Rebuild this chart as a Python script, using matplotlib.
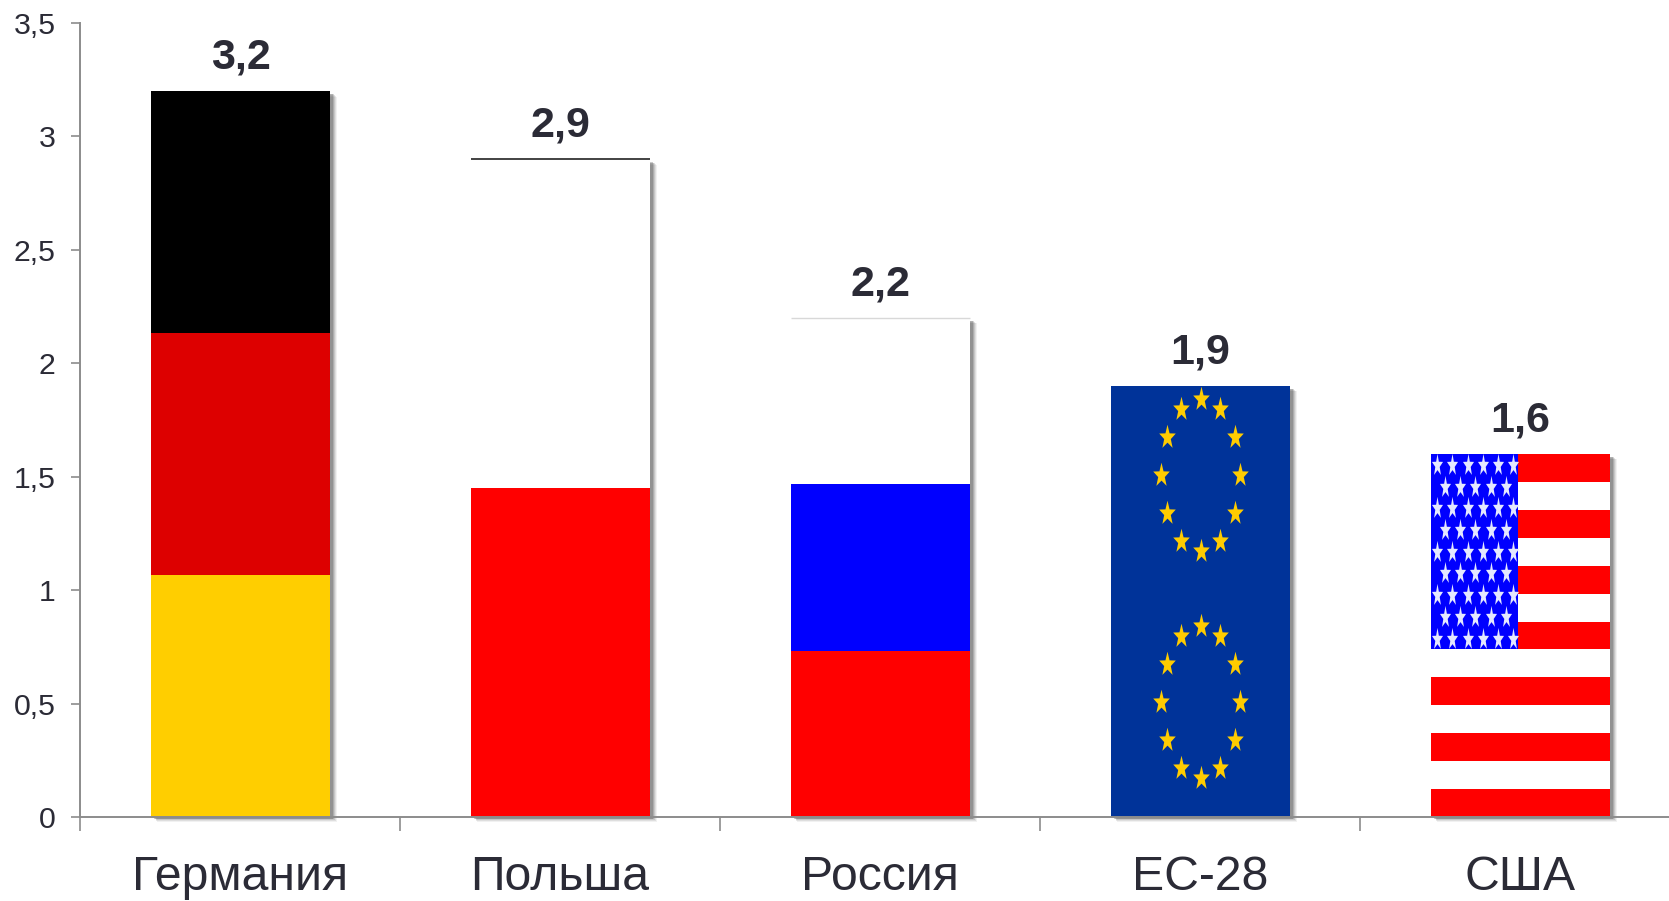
import numpy as np
import matplotlib
matplotlib.use('Agg')
import matplotlib.pyplot as plt
from matplotlib.path import Path

categories = ['Германия', 'Польша', 'Россия', 'ЕС-28', 'США']
values = [3.2, 2.9, 2.2, 1.9, 1.6]
value_labels = ['3,2', '2,9', '2,2', '1,9', '1,6']
ytick_vals = [0, 0.5, 1, 1.5, 2, 2.5, 3, 3.5]
ytick_labels = ['0', '0,5', '1', '1,5', '2', '2,5', '3', '3,5']

# flag stripes, bottom to top
germany_colors = ['#FFCE00', '#DD0000', '#000000']
poland_colors = ['#FF0000', '#FFFFFF']
russia_colors = ['#FF0000', '#0000FF', '#FFFFFF']
eu_color = '#003399'
usa_colors = ['#FF0000', '#FFFFFF'] * 6 + ['#FF0000']
canton_color = '#0000FF'
star_eu = '#FFCC00'
star_usa = '#E4E8FF'
eu_ring_centers = [0.507, 1.507]

text_color = '#2B2B36'
axis_color = '#8C8C8C'
W, H = 1669, 901
bar_w = 0.56
plt.rcParams['font.family'] = ['Liberation Sans', 'DejaVu Sans']


def star_path(xscale):
    ang = np.pi / 2 + np.arange(10) * np.pi / 5
    rad = np.where(np.arange(10) % 2 == 0, 1.0, 0.4)
    verts = np.column_stack((xscale * rad * np.cos(ang), rad * np.sin(ang)))
    verts = np.vstack((verts, verts[0]))
    return Path(verts, closed=True)


def stripes(ax, x, total, colors):
    step = total / len(colors)
    for i, c in enumerate(colors):
        ax.bar(x, step, bottom=i * step, width=bar_w, color=c, linewidth=0, zorder=2)


fig = plt.figure(figsize=(W / 100, H / 100), dpi=100)
ax = fig.add_axes([80 / W, (H - 817) / H, (W - 80) / W, 794 / H])
xs = np.arange(len(categories)) + 0.002

# soft shadow behind every bar
for off, alpha in [(0.02, 0.08), (0.017, 0.12), (0.014, 0.16), (0.011, 0.22), (0.008, 0.3)]:
    ax.bar(xs + off, np.array(values) - 0.004, bottom=-off, width=bar_w,
           color='#555555', alpha=alpha, linewidth=0, zorder=1, clip_on=False)

stripes(ax, xs[0], values[0], germany_colors)
stripes(ax, xs[1], values[1], poland_colors)
stripes(ax, xs[2], values[2], russia_colors)
stripes(ax, xs[3], values[3], [eu_color])
stripes(ax, xs[4], values[4], usa_colors)

# thin lines on top of the white flags
ax.plot([xs[1] - bar_w / 2, xs[1] + bar_w / 2], [values[1], values[1]],
        color='#222222', lw=1.2, zorder=3, solid_capstyle='butt')
ax.plot([xs[2] - bar_w / 2, xs[2] + bar_w / 2], [values[2], values[2]],
        color='#D8D8D8', lw=1, zorder=3, solid_capstyle='butt')

# eu stars, two rings
ang = np.pi / 2 + np.arange(12) * np.pi / 6
for cy in eu_ring_centers:
    ax.scatter(xs[3] + 0.1225 * np.cos(ang), cy + 0.335 * np.sin(ang),
               marker=star_path(0.68), s=340, color=star_eu, linewidth=0, zorder=4)

# usa canton
us_left = xs[4] - bar_w / 2
step = values[4] / len(usa_colors)
canton_w = bar_w * 0.485
canton_bottom = 6 * step
canton_h = 7 * step
ax.bar(us_left + canton_w / 2, canton_h, bottom=canton_bottom, width=canton_w,
       color=canton_color, linewidth=0, zorder=3)
row_gap = canton_h / 9
col_gap = canton_w / 5.7
for row in range(9):
    n = 6 if row % 2 == 0 else 5
    sx = us_left + col_gap * (0.4 if row % 2 == 0 else 0.9) + np.arange(n) * col_gap
    sy = np.full(n, canton_bottom + canton_h - row_gap * (row + 0.5))
    ax.scatter(sx, sy, marker=star_path(0.5), s=280, color=star_usa, linewidth=0, zorder=4)

for x, v, lab in zip(xs, values, value_labels):
    ax.annotate(lab, (x, v), xytext=(0, 10), textcoords='offset points', ha='center',
                va='bottom', fontsize=31, fontweight='bold', color=text_color)

ax.set_xlim(-0.5, (W - 80) / 320 - 0.5)
ax.set_ylim(0, 3.5)
ax.set_yticks(ytick_vals)
ax.set_yticklabels(ytick_labels, fontsize=21.8, color=text_color)
ax.set_xticks(np.arange(len(categories)) - 0.5)
ax.set_xticklabels([])
ax.set_xticks(np.arange(len(categories)), minor=True)
ax.set_xticklabels(categories, minor=True, fontsize=34.7, color=text_color)
ax.tick_params(axis='y', length=6.5, width=1.2, color=axis_color, pad=11)
ax.tick_params(axis='x', which='major', length=10, width=1.2, color=axis_color)
ax.tick_params(axis='x', which='minor', length=0, pad=27.5)
ax.spines['top'].set_visible(False)
ax.spines['right'].set_visible(False)
for s in ['left', 'bottom']:
    ax.spines[s].set_color(axis_color)
    ax.spines[s].set_linewidth(1.4)
    ax.spines[s].set_zorder(5)

fig.savefig('out.png', dpi=100)
